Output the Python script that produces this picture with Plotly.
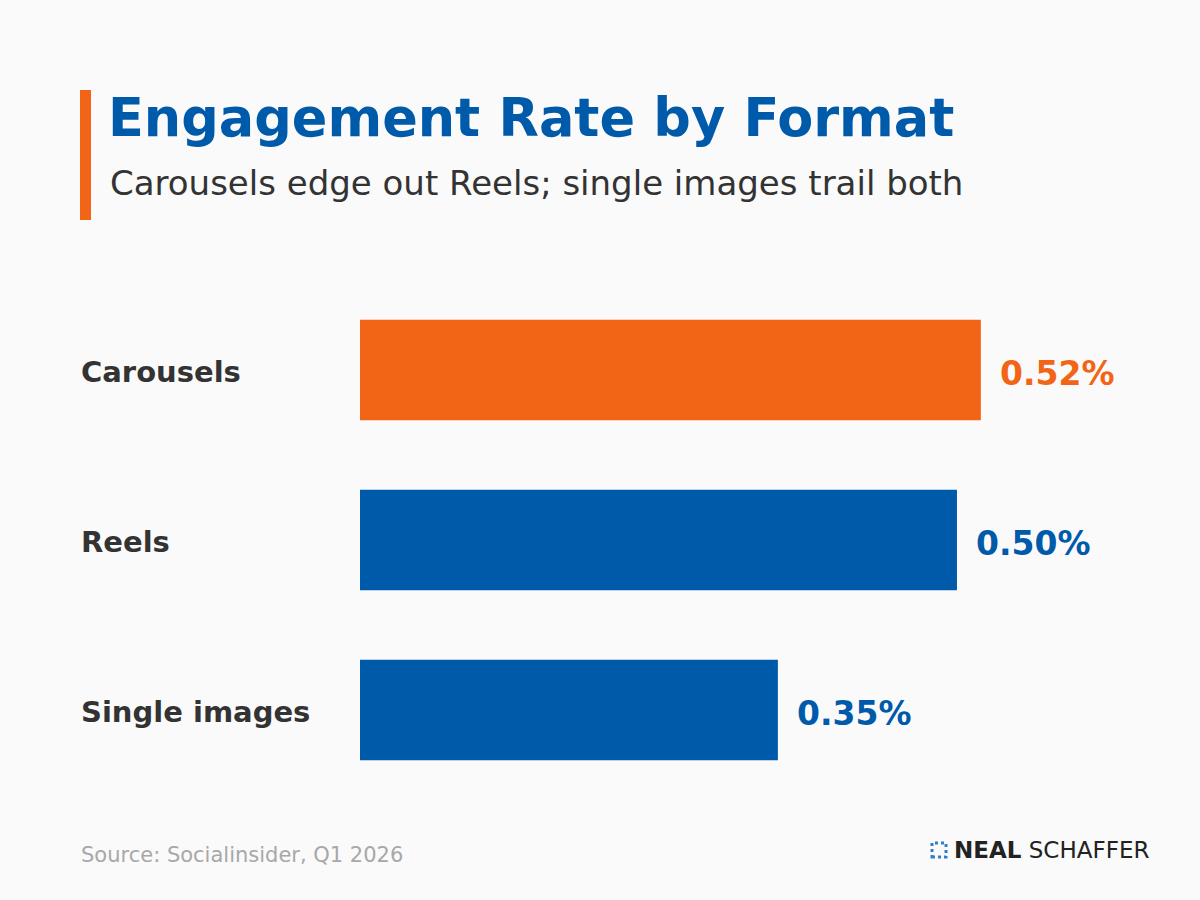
import plotly.graph_objects as go

categories = ["Carousels", "Reels", "Single images"]
values = [0.52, 0.50, 0.35]
value_labels = ["0.52%", "0.50%", "0.35%"]
highlight = "Carousels"

title = "Engagement Rate by Format"
subtitle = "Carousels edge out Reels; single images trail both"
source = "Source: Socialinsider, Q1 2026"

ORANGE = "#F26516"
BLUE = "#005AAA"
DARK = "#333333"
FONT = "DejaVu Sans"

W, H = 1200, 900
PL, PR, PT, PB = 360, 1140, 285, 795  # plot area in page pixels


def px(xp, yp):
    """page pixel -> paper coords of the plot area"""
    return (xp - PL) / (PR - PL), (PB - yp) / (PB - PT)


colors = [ORANGE if c == highlight else BLUE for c in categories]

fig = go.Figure()
fig.add_trace(go.Bar(
    x=values, y=categories, orientation="h",
    marker=dict(color=colors, line=dict(width=0)),
    width=0.59, hoverinfo="skip",
))

annotations = []
lx, _ = px(79, 0)
for c, v, lab, col in zip(categories, values, value_labels, colors):
    annotations.append(dict(
        x=v, y=c, xref="x", yref="y", text=f"<b>{lab}</b>",
        showarrow=False, xanchor="left", yanchor="middle", xshift=17, yshift=-3,
        font=dict(family=FONT, size=33, color=col),
    ))
    annotations.append(dict(
        x=lx, y=c, xref="paper", yref="y", text=f"<b>{c}</b>",
        showarrow=False, xanchor="left", yanchor="middle", yshift=-2,
        font=dict(family=FONT, size=29, color=DARK),
    ))


def page_text(xp, yp, text, size, color, anchor="left"):
    x, y = px(xp, yp)
    return dict(x=x, y=y, xref="paper", yref="paper", text=text, showarrow=False,
                xanchor=anchor, yanchor="middle", font=dict(family=FONT, size=size, color=color))


annotations += [
    page_text(106, 117, f"<b>{title}</b>", 52.5, BLUE),
    page_text(108, 183, subtitle, 34, DARK),
    page_text(79, 855, source, 21, "#A8A8A8"),
    page_text(1151, 850, "<b>NEAL</b> SCHAFFER", 23, "#222222", anchor="right"),
]

bx0, by0 = px(80, 220)
bx1, by1 = px(91, 90)
ix0, iy0 = px(932, 857)
ix1, iy1 = px(946, 843)

fig.update_layout(
    width=W, height=H,
    margin=dict(l=PL, r=W - PR, t=PT, b=H - PB, pad=0),
    paper_bgcolor="#FAFAFA", plot_bgcolor="#FAFAFA",
    showlegend=False,
    xaxis=dict(range=[0, 0.6533], visible=False, fixedrange=True),
    yaxis=dict(categoryorder="array", categoryarray=categories,
               range=[2.5, -0.5], visible=False, fixedrange=True),
    annotations=annotations,
)
fig.add_shape(type="rect", xref="paper", yref="paper", x0=bx0, x1=bx1, y0=by0, y1=by1,
              fillcolor=ORANGE, line=dict(width=0), layer="above")
fig.add_shape(type="rect", xref="paper", yref="paper", x0=ix0, x1=ix1, y0=iy0, y1=iy1,
              fillcolor="rgba(0,0,0,0)", line=dict(color="#2F7FD0", width=3, dash="dot"),
              layer="above")

fig.write_html("out.html")
